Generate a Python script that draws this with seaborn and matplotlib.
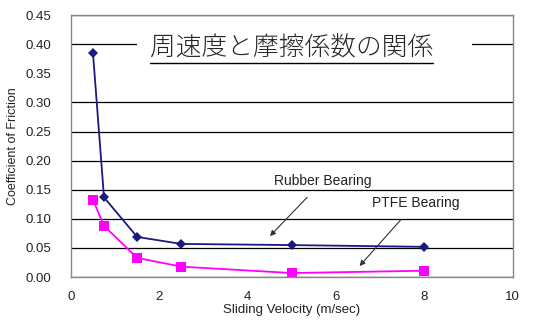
import seaborn as sns
import matplotlib.pyplot as plt
import matplotlib.patches as mpatches
import pandas as pd
import numpy as np

sns.set_style('white')
plt.rcParams['font.family'] = ['Liberation Sans', 'Noto Sans CJK JP', 'DejaVu Sans']

velocity = [0.5, 0.75, 1.5, 2.5, 5, 8]
rubber = [0.385, 0.137, 0.069, 0.057, 0.055, 0.052]
ptfe = [0.133, 0.088, 0.033, 0.018, 0.007, 0.011]

df = pd.DataFrame({'velocity': velocity * 2,
                   'mu': rubber + ptfe,
                   'bearing': ['Rubber Bearing'] * 6 + ['PTFE Bearing'] * 6})

fig = plt.figure(figsize=(5.45, 3.2), dpi=100)
ax = fig.add_axes([0.130, 0.134, 0.811, 0.819])

sns.lineplot(data=df, x='velocity', y='mu', hue='bearing', style='bearing',
             palette={'Rubber Bearing': '#1a1a80', 'PTFE Bearing': '#ff00ff'},
             markers={'Rubber Bearing': 'D', 'PTFE Bearing': 's'},
             dashes=False, markersize=5, linewidth=1.3, markeredgewidth=0,
             legend=False, ax=ax)
for line in ax.lines:
    if line.get_marker() == 's':
        line.set_markersize(7)

ax.set_xlim(0, 10)
ax.set_ylim(0, 0.45)
ax.set_xticks(np.arange(0, 11, 2))
ax.set_yticks(np.arange(0, 0.451, 0.05))
ax.yaxis.set_major_formatter(plt.FormatStrFormatter('%.2f'))
ax.tick_params(labelsize=9.5, colors='#222222', length=0)
ax.tick_params(axis='y', pad=14)
ax.tick_params(axis='x', direction='in', length=3, color='#999999', pad=10)

ax.yaxis.grid(True, color='black', linewidth=0.9)
for val, gl in zip(ax.get_yticks(), ax.get_ygridlines()):
    if abs(val - 0.35) < 1e-6:
        gl.set_visible(False)
ax.set_axisbelow(True)

for s in ax.spines.values():
    s.set_color('#888888')
    s.set_linewidth(1)

ax.set_xlabel('Sliding Velocity (m/sec)', fontsize=9.5, color='#222222', labelpad=1)
ax.set_ylabel('Coefficient of Friction', fontsize=9, color='#222222', labelpad=5)

# white box behind the title, hiding the middle of the 0.40 grid line
ax.add_patch(mpatches.Rectangle((1.49, 0.375), 9.07 - 1.49, 0.05, facecolor='white',
                                edgecolor='none', zorder=4))
title = ax.text(5.0, 0.392, '周速度と摩擦係数の関係', fontsize=18.5, ha='center', va='center',
                family=['Noto Sans CJK JP'], fontweight='light', zorder=5)
fig.canvas.draw()
bb = title.get_window_extent().transformed(ax.transData.inverted())
ax.plot([bb.x0, bb.x1], [bb.y0 - 0.002, bb.y0 - 0.002], color='black', linewidth=1, zorder=6)

ax.annotate('Rubber Bearing', xy=(4.46, 0.067), xytext=(5.7, 0.165), fontsize=10,
            ha='center', va='center', color='#222222',
            arrowprops=dict(arrowstyle='-|>', color='#333333', lw=0.8,
                            shrinkA=6, mutation_scale=8))
ax.annotate('PTFE Bearing', xy=(6.49, 0.0155), xytext=(7.8, 0.127), fontsize=10,
            ha='center', va='center', color='#222222',
            arrowprops=dict(arrowstyle='-|>', color='#333333', lw=0.8,
                            shrinkA=6, mutation_scale=8))

fig.savefig('out.png', dpi=100)
